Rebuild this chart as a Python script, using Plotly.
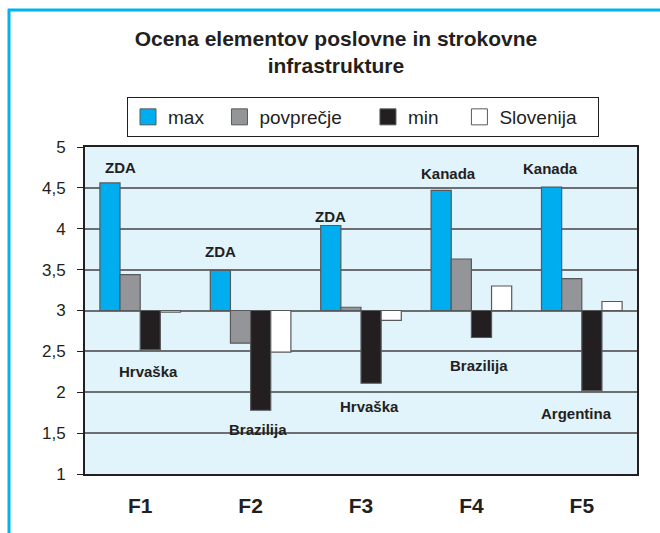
import plotly.graph_objects as go

categories = ["F1", "F2", "F3", "F4", "F5"]
series_names = ["max", "povprečje", "min", "Slovenija"]
max_vals = [4.56, 3.49, 4.04, 4.47, 4.51]
avg_vals = [3.44, 2.60, 3.04, 3.63, 3.39]
min_vals = [2.52, 1.78, 2.11, 2.67, 2.02]
slo_vals = [2.98, 2.49, 2.88, 3.30, 3.11]
baseline = 3

max_labels = ["ZDA", "ZDA", "ZDA", "Kanada", "Kanada"]
min_labels = ["Hrvaška", "Brazilija", "Hrvaška", "Brazilija", "Argentina"]

y_tickvals = [1, 1.5, 2, 2.5, 3, 3.5, 4, 4.5, 5]
y_ticktext = ["1", "1,5", "2", "2,5", "3", "3,5", "4", "4,5", "5"]

# label layout (positions, not data)
max_label_y = [4.755, 3.716, 4.156, 4.68, 4.743]
max_label_dx = [-20, -30, -31, -23, -31]
min_label_y = [2.248, 1.55, 1.82, 2.333, 1.746]
min_label_dx = [8, 7, 8, 8, -5]

# legend text padding (non-breaking spaces) to space entries like the original
legend_pad = [2, 4, 3, 3]

colors = ["#00AEEF", "#939598", "#231F20", "#FFFFFF"]
all_vals = [max_vals, avg_vals, min_vals, slo_vals]

FONT = "Liberation Sans, Arial, sans-serif"
TXT = "#231F20"

fig = go.Figure()
for name, vals, col in zip(series_names, all_vals, colors):
    fig.add_trace(go.Bar(
        x=categories, y=[v - baseline for v in vals], base=baseline,
        name=name, marker=dict(color=col, line=dict(color="#58595B", width=1.2)),
        showlegend=False, hovertemplate="%{x}: %{customdata}<extra>" + name + "</extra>",
        customdata=vals,
    ))
# legend entries
for name, col, pad in zip(series_names, colors, legend_pad):
    fig.add_trace(go.Scatter(
        x=[None], y=[None], mode="markers", name=name + "\u00a0" * pad,
        marker=dict(symbol="square", size=16, color=col, line=dict(color="#58595B", width=1)),
    ))

annotations = []
for i, c in enumerate(categories):
    annotations.append(dict(x=c, y=max_label_y[i], text="<b>" + max_labels[i] + "</b>",
                            showarrow=False, xshift=max_label_dx[i],
                            font=dict(family=FONT, size=15, color=TXT)))
    annotations.append(dict(x=c, y=min_label_y[i], text="<b>" + min_labels[i] + "</b>",
                            showarrow=False, xshift=min_label_dx[i],
                            font=dict(family=FONT, size=15, color=TXT)))

fig.update_layout(
    width=660, height=533,
    margin=dict(l=85, r=23, t=147, b=59, autoexpand=False),
    paper_bgcolor="white", plot_bgcolor="#E1F3FB",
    barmode="group", bargap=0.27, bargroupgap=0,
    font=dict(family=FONT, color=TXT),
    title=dict(text="<b>Ocena elementov poslovne in strokovne<br>infrastrukture</b>",
               x=0.509, xref="container", xanchor="center",
               y=1 - 46 / 533, yref="container", yanchor="top",
               font=dict(family=FONT, size=21, color=TXT)),
    legend=dict(orientation="h", x=(127 - 85) / 552, xanchor="left",
                y=(474 - 97) / 327, yanchor="top",
                bordercolor="#231F20", borderwidth=1, bgcolor="white",
                font=dict(family=FONT, size=19, color=TXT), itemclick=False),
    xaxis=dict(type="category", showgrid=False, showline=True, linecolor="#231F20",
               linewidth=2, mirror=True, ticks="", ticklabelstandoff=12, automargin=False,
               tickfont=dict(family=FONT, size=21, color=TXT, weight="bold")),
    xaxis2=dict(overlaying="x", anchor="free", position=0.5, range=[-0.5, 4.5],
                tickvals=[0.5, 1.5, 2.5, 3.5], ticks="inside", ticklen=5, tickwidth=1,
                tickcolor="#6D6E71", showticklabels=False, showgrid=False,
                showline=False, zeroline=False, side="bottom", automargin=False),
    yaxis=dict(range=[1, 5], tickvals=y_tickvals, ticktext=y_ticktext,
               showgrid=True, gridcolor="#6D6E71", gridwidth=1.5, automargin=False,
               showline=True, linecolor="#231F20", linewidth=2, mirror=True,
               ticks="outside", ticklen=6, tickcolor="#231F20", ticklabelstandoff=8,
               zeroline=False, tickfont=dict(family=FONT, size=17, color=TXT)),
    annotations=annotations,
    shapes=[
        dict(type="line", xref="paper", yref="paper",
             x0=(9 - 85) / 552, x1=(9 - 85) / 552, y0=(474 - 9) / 327, y1=(474 - 533) / 327,
             line=dict(color="#00B4EE", width=3)),
        dict(type="line", xref="paper", yref="paper",
             x0=(8 - 85) / 552, x1=(660 - 85) / 552, y0=(474 - 10) / 327, y1=(474 - 10) / 327,
             line=dict(color="#00B4EE", width=3)),
    ],
)

fig.write_html("out.html", config={"displayModeBar": False},
               post_script="document.body.style.margin='0';")
